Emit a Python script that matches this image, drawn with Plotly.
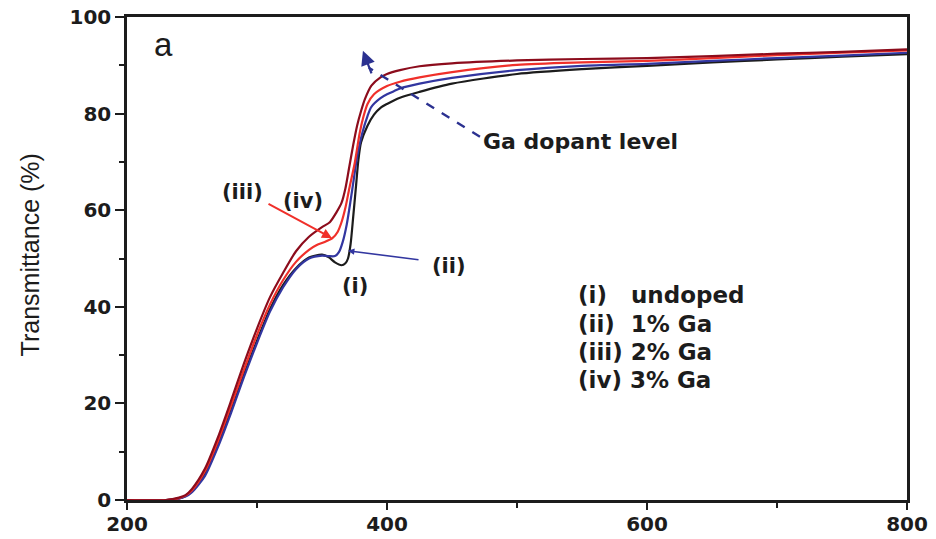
import plotly.graph_objects as go

# (i) undoped - black
wl_i = [200, 230, 240, 245, 250, 260, 270, 280, 290, 300, 310, 320, 330, 340, 350, 355, 360, 365, 368, 370, 372, 374, 376, 378, 380, 385, 390, 395, 400, 410, 425, 450, 500, 550, 600, 650, 700, 750, 800]
t_i = [0, 0, 0.3, 0.8, 1.8, 5.5, 11.5, 18.5, 26, 33, 39.5, 44.5, 48, 50.2, 50.8, 50.3, 49.2, 48.6, 49, 50, 53, 58.6, 64.5, 70.4, 74, 77.5, 79.8, 81.2, 82, 83.3, 84.5, 86.2, 88.2, 89.2, 89.9, 90.6, 91.2, 91.8, 92.3]

# (ii) 1% Ga - blue
wl_ii = [200, 230, 240, 245, 250, 260, 270, 280, 290, 300, 310, 320, 330, 340, 350, 355, 360, 363, 366, 369, 372, 374, 377, 381, 385, 388, 395, 400, 405, 410, 425, 450, 500, 550, 600, 650, 700, 750, 800]
t_ii = [0, 0, 0.3, 0.7, 1.6, 5, 11, 18, 25.5, 32.5, 39, 44, 47.8, 50, 50.6, 50.5, 50.5, 51.3, 53.5, 57, 62, 65.6, 71, 76, 79.5, 81.4, 83.2, 84, 84.6, 85.2, 86.2, 87.4, 89, 89.9, 90.3, 90.9, 91.5, 92, 92.6]

# (iii) 2% Ga - red
wl_iii = [200, 230, 240, 245, 250, 260, 270, 280, 290, 300, 310, 320, 330, 340, 346, 352, 358, 362, 365, 368, 371, 375, 379, 382, 385, 390, 400, 410, 425, 450, 500, 550, 600, 650, 700, 750, 800]
t_iii = [0, 0, 0.4, 0.9, 2, 6, 12.2, 19.5, 27, 34.2, 40.5, 45.5, 49.3, 51.8, 52.8, 53.4, 54.2, 55.5, 57.5, 60.5, 64.5, 69.5, 76, 79.5, 82, 84, 85.7, 86.6, 87.5, 88.6, 90.1, 90.6, 90.9, 91.5, 92.1, 92.6, 93.1]

# (iv) 3% Ga - dark red
wl_iv = [200, 230, 240, 245, 250, 260, 270, 280, 290, 300, 310, 320, 330, 340, 350, 356, 361, 365, 368, 371, 374, 377, 380, 383, 388, 395, 400, 410, 425, 450, 500, 550, 600, 650, 700, 750, 800]
t_iv = [0, 0, 0.5, 1, 2.3, 6.5, 13, 20.5, 28.3, 35.5, 42, 47, 51.5, 54.5, 56.5, 57.5, 59.5, 61.5, 64.5, 69, 73.5, 77.5, 80.5, 83, 85.8, 87.5, 88.2, 89, 89.8, 90.4, 91, 91.3, 91.5, 91.9, 92.4, 92.8, 93.3]

legend_rows = ["(i)\u00a0\u00a0\u00a0undoped", "(ii)\u00a0\u00a01% Ga", "(iii) 2% Ga", "(iv) 3% Ga"]
x_ticks = [200, 400, 600, 800]
y_ticks = [0, 20, 40, 60, 80, 100]

WIDE = "DejaVu Sans, Verdana, sans-serif"
NARROW = "Liberation Sans, Arial, sans-serif"
BLACK = "#1c1c1c"
BLUE = "#3236a0"
RED = "#f0302a"
DARKRED = "#8c0c1c"
NAVY = "#2b3190"

fig = go.Figure()
for wl, t, c in [(wl_i, t_i, BLACK), (wl_ii, t_ii, BLUE), (wl_iii, t_iii, RED), (wl_iv, t_iv, DARKRED)]:
    fig.add_trace(go.Scatter(x=wl, y=t, mode="lines",
                             line=dict(color=c, width=2.2, shape="spline", smoothing=0.7),
                             showlegend=False, hoverinfo="skip"))

ann = []
ann.append(dict(x=0.047, y=0.943, xref="paper", yref="paper", text="a", showarrow=False,
                font=dict(family=NARROW, size=33, color=BLACK), xanchor="center", yanchor="middle"))
ann.append(dict(x=-0.124, y=0.507, xref="paper", yref="paper", text="Transmittance (%)", showarrow=False,
                textangle=-90, font=dict(family=NARROW, size=25, color=BLACK), xanchor="center", yanchor="middle"))
ann.append(dict(x=472.5, y=74.2, text="<b>Ga dopant level</b>", showarrow=False,
                font=dict(family=WIDE, size=22, color=BLACK), xanchor="left", yanchor="middle"))
# dashed arrow head
ann.append(dict(x=381.5, y=93.0, ax=388.5, ay=88.0, axref="x", ayref="y", text="",
                showarrow=True, arrowhead=2, arrowsize=1.3, arrowwidth=2.2, arrowcolor=NAVY))
# labels
for txt, x, y in [("(iii)", 289, 63.8), ("(iv)", 335.4, 62.0), ("(ii)", 448, 48.5), ("(i)", 375.4, 44.4)]:
    ann.append(dict(x=x, y=y, text="<b>%s</b>" % txt, showarrow=False,
                    font=dict(family=WIDE, size=21, color=BLACK), xanchor="center", yanchor="middle"))
# red arrow from (iii) to red curve
ann.append(dict(x=357.7, y=54.2, ax=307.7, ay=61.5, axref="x", ayref="y", text="",
                showarrow=True, arrowhead=2, arrowsize=1.0, arrowwidth=2, arrowcolor=RED))
# blue arrow from (ii) to blue curve
ann.append(dict(x=370, y=51.6, ax=425.4, ay=49.7, axref="x", ayref="y", text="",
                showarrow=True, arrowhead=2, arrowsize=0.8, arrowwidth=1.6, arrowcolor=BLUE))
# legend block
for i, row in enumerate(legend_rows):
    ann.append(dict(x=0.576, y=42.4 - i * 5.86, xref="paper", yref="y", text="<b>%s</b>" % row, showarrow=False,
                    font=dict(family=WIDE, size=23, color=BLACK), xanchor="left", yanchor="middle"))

fig.update_layout(
    width=936, height=539,
    margin=dict(l=127, r=29, t=17, b=39),
    plot_bgcolor="white", paper_bgcolor="white",
    annotations=ann,
    shapes=[dict(type="line", x0=471.5, y0=75.2, x1=386, y1=89.5, xref="x", yref="y",
                 line=dict(color=NAVY, width=2.4, dash="dash"))],
    xaxis=dict(range=[200, 800], tickvals=x_ticks, ticktext=[str(v) for v in x_ticks], automargin=False,
               showgrid=False, zeroline=False, showline=True, linecolor=BLACK, linewidth=2.5, mirror=True,
               ticks="outside", ticklen=7, tickwidth=2.2, tickcolor=BLACK, ticklabelstandoff=-3,
               tickfont=dict(family=WIDE, size=20, color=BLACK, weight="bold"),
               minor=dict(tickvals=[300, 500, 700], ticks="outside", ticklen=5, tickwidth=2, tickcolor=BLACK)),
    yaxis=dict(range=[0, 100], tickvals=y_ticks, ticktext=[str(v) for v in y_ticks], automargin=False,
               showgrid=False, zeroline=False, showline=True, linecolor=BLACK, linewidth=2.5, mirror=True,
               ticks="outside", ticklen=9, tickwidth=2.2, tickcolor=BLACK,
               tickfont=dict(family=WIDE, size=20, color=BLACK, weight="bold"),
               minor=dict(tickvals=[10, 30, 50, 70, 90], ticks="outside", ticklen=5, tickwidth=2, tickcolor=BLACK)),
)

# remove the default 8px page margin so the 936x539 figure fills the window exactly
fig.write_html("out.html", config={"displayModeBar": False},
               post_script="document.body.style.margin='0';document.body.style.overflow='hidden';")
